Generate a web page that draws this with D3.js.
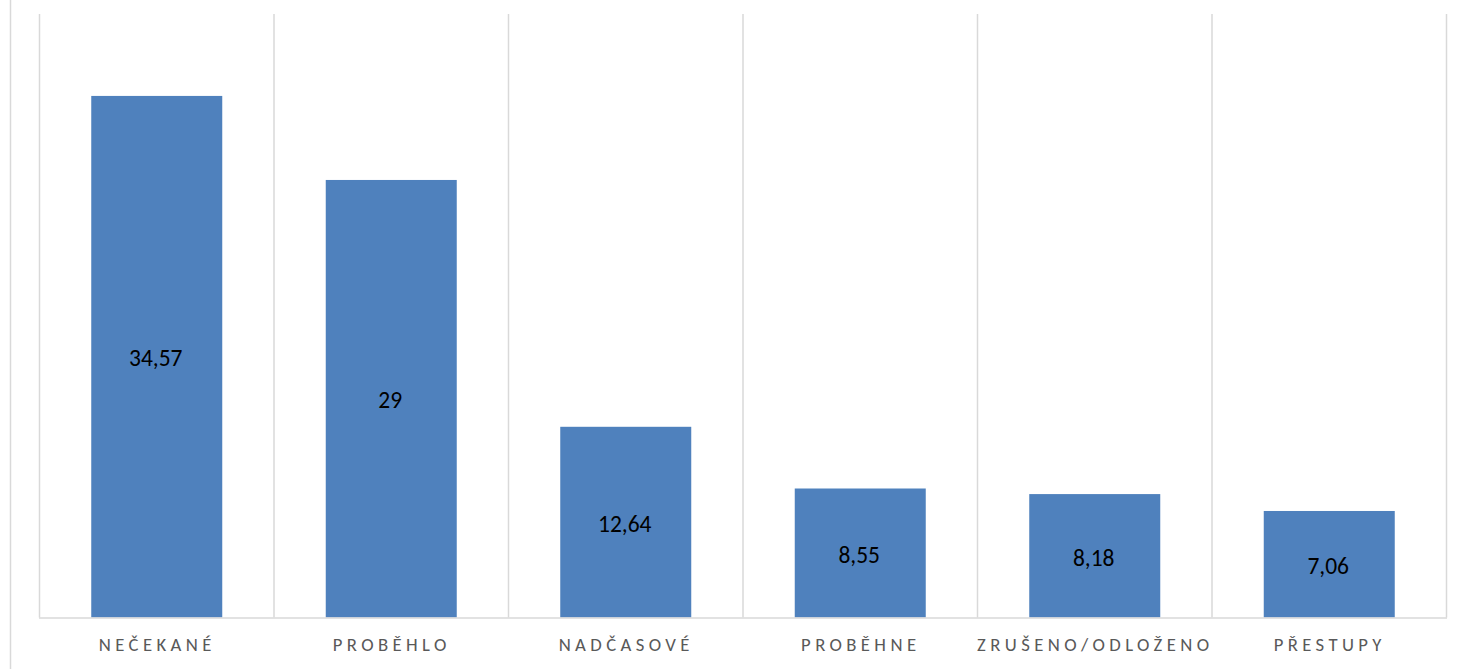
<!DOCTYPE html>
<html><head><meta charset="utf-8">
<script src="https://cdn.jsdelivr.net/npm/d3@7"></script>
<style>body{margin:0;background:#fff;}svg{display:block;}</style>
</head><body>
<script>
const categories = ["NEČEKANÉ","PROBĚHLO","NADČASOVÉ","PROBĚHNE","ZRUŠENO/ODLOŽENO","PŘESTUPY"];
const values = [34.57, 29, 12.64, 8.55, 8.18, 7.06];
const valueLabels = ["34,57","29","12,64","8,55","8,18","7,06"];

const W = 1467, H = 669;
const svg = d3.select("body").append("svg").attr("width", W).attr("height", H);
const font = "Carlito, Calibri, Lato, 'Open Sans', sans-serif";

// outer chart border
svg.append("line").attr("x1", 10.5).attr("x2", 10.5).attr("y1", 0).attr("y2", H)
  .attr("stroke", "#d9d9d9").attr("stroke-width", 1.5);

const x = d3.scaleBand().domain(categories).range([39.5, 1446.5]).paddingInner(0).paddingOuter(0);
const y = d3.scaleLinear().domain([0, 40]).range([617.5, 14]);

// vertical gridlines at category boundaries
const bounds = categories.map(c => x(c)).concat([x.range()[1]]);
svg.append("g").selectAll("line").data(bounds).join("line")
  .attr("x1", d => d).attr("x2", d => d)
  .attr("y1", y(40)).attr("y2", y(0))
  .attr("stroke", "#d9d9d9").attr("stroke-width", 1.5);

// bars
const bw = 131;
svg.append("g").selectAll("rect").data(values).join("rect")
  .attr("x", (d, i) => x(categories[i]) + x.bandwidth() / 2 - bw / 2)
  .attr("width", bw)
  .attr("y", d => y(d))
  .attr("height", d => y(0) - y(d))
  .attr("fill", "#4f81bd");

// baseline
svg.append("line").attr("x1", 39).attr("x2", 1447).attr("y1", y(0) + 0.5).attr("y2", y(0) + 0.5)
  .attr("stroke", "#d9d9d9").attr("stroke-width", 1.5);

// data labels
svg.append("g").selectAll("text").data(values).join("text")
  .attr("x", (d, i) => x(categories[i]) + x.bandwidth() / 2 - 1)
  .attr("y", d => (y(d) + y(0)) / 2 + 1.5)
  .attr("dy", "0.35em")
  .attr("text-anchor", "middle")
  .attr("font-family", font).attr("font-size", 23.5).attr("fill", "#000")
  .text((d, i) => valueLabels[i]);

// category labels
const xAxis = d3.axisBottom(x).tickSize(0).tickPadding(0);
const gx = svg.append("g").attr("transform", `translate(0,${y(0)})`).call(xAxis);
gx.select(".domain").remove();
gx.selectAll("text")
  .attr("y", 33)
  .attr("dy", 0)
  .attr("font-family", font).attr("font-size", 18.7).attr("fill", "#595959")
  .attr("letter-spacing", "4.4px")
  .attr("text-anchor", "middle")
  .attr("dx", "0.5px");
</script>
</body></html>
